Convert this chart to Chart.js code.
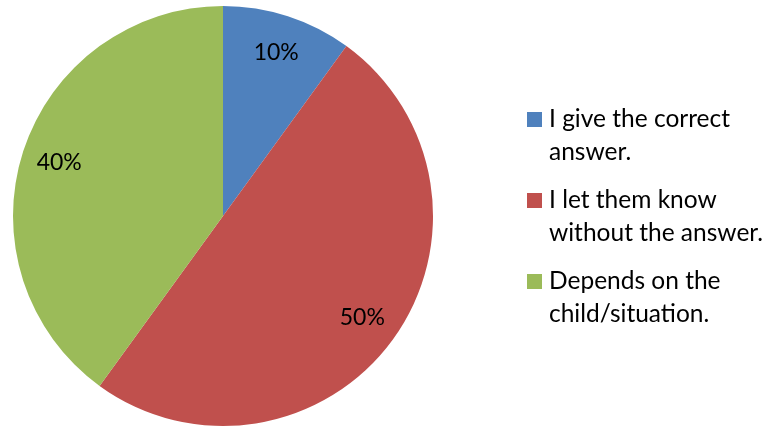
<!DOCTYPE html>
<html>
<head>
<meta charset="utf-8">
<script src="https://cdn.jsdelivr.net/npm/chart.js@4"></script>
<style>
    html, body { margin: 0; padding: 0; background: #fff; }
    #wrap { width: 770px; height: 427px; }
</style>
</head>
<body>
<div id="wrap"><canvas id="pieChart" width="770" height="427"></canvas></div>
<script>
// answers to the survey question
const answerLabels = [
    ['I give the correct', 'answer.'],
    ['I let them know', 'without the answer.'],
    ['Depends on the', 'child/situation.']
];
const answerShares = [10, 50, 40];
const sliceColors = ['#4F81BD', '#C0504D', '#9BBB59'];

const FONT = '"Lato", "Open Sans", sans-serif';

// percentage text inside each slice
const sliceLabels = {
    id: 'sliceLabels',
    afterDatasetsDraw(chart) {
        const ctx = chart.ctx;
        const meta = chart.getDatasetMeta(0);
        ctx.save();
        ctx.font = '23px ' + FONT;
        ctx.fillStyle = '#000';
        ctx.textAlign = 'center';
        ctx.textBaseline = 'middle';
        meta.data.forEach(function(arc, i) {
            const mid = (arc.startAngle + arc.endAngle) / 2;
            const d = arc.outerRadius * 0.82;
            ctx.fillText(answerShares[i] + '%', arc.x + Math.cos(mid) * d, arc.y + Math.sin(mid) * d);
        });
        ctx.restore();
    }
};

// legend on the right with wrapped labels
const sideLegend = {
    id: 'sideLegend',
    afterDraw(chart) {
        const ctx = chart.ctx;
        ctx.save();
        ctx.font = '24.5px ' + FONT;
        ctx.textBaseline = 'middle';
        answerLabels.forEach(function(lines, i) {
            const top = 119 + i * 81;
            ctx.fillStyle = sliceColors[i];
            ctx.fillRect(527, top - 7, 15, 15);
            ctx.fillStyle = '#000';
            lines.forEach(function(line, j) {
                ctx.fillText(line, 549, top + j * 33);
            });
        });
        ctx.restore();
    }
};

new Chart(document.getElementById('pieChart').getContext('2d'), {
    type: 'pie',
    data: {
        labels: answerLabels.map(l => l.join(' ')),
        datasets: [{
            data: answerShares,
            backgroundColor: sliceColors,
            borderWidth: 0
        }]
    },
    options: {
        responsive: false,
        animation: false,
        layout: {
            padding: { left: 13, right: 337, top: 6, bottom: 1 }
        },
        plugins: {
            legend: { display: false },
            tooltip: { enabled: false }
        }
    },
    plugins: [sliceLabels, sideLegend]
});
</script>
</body>
</html>
